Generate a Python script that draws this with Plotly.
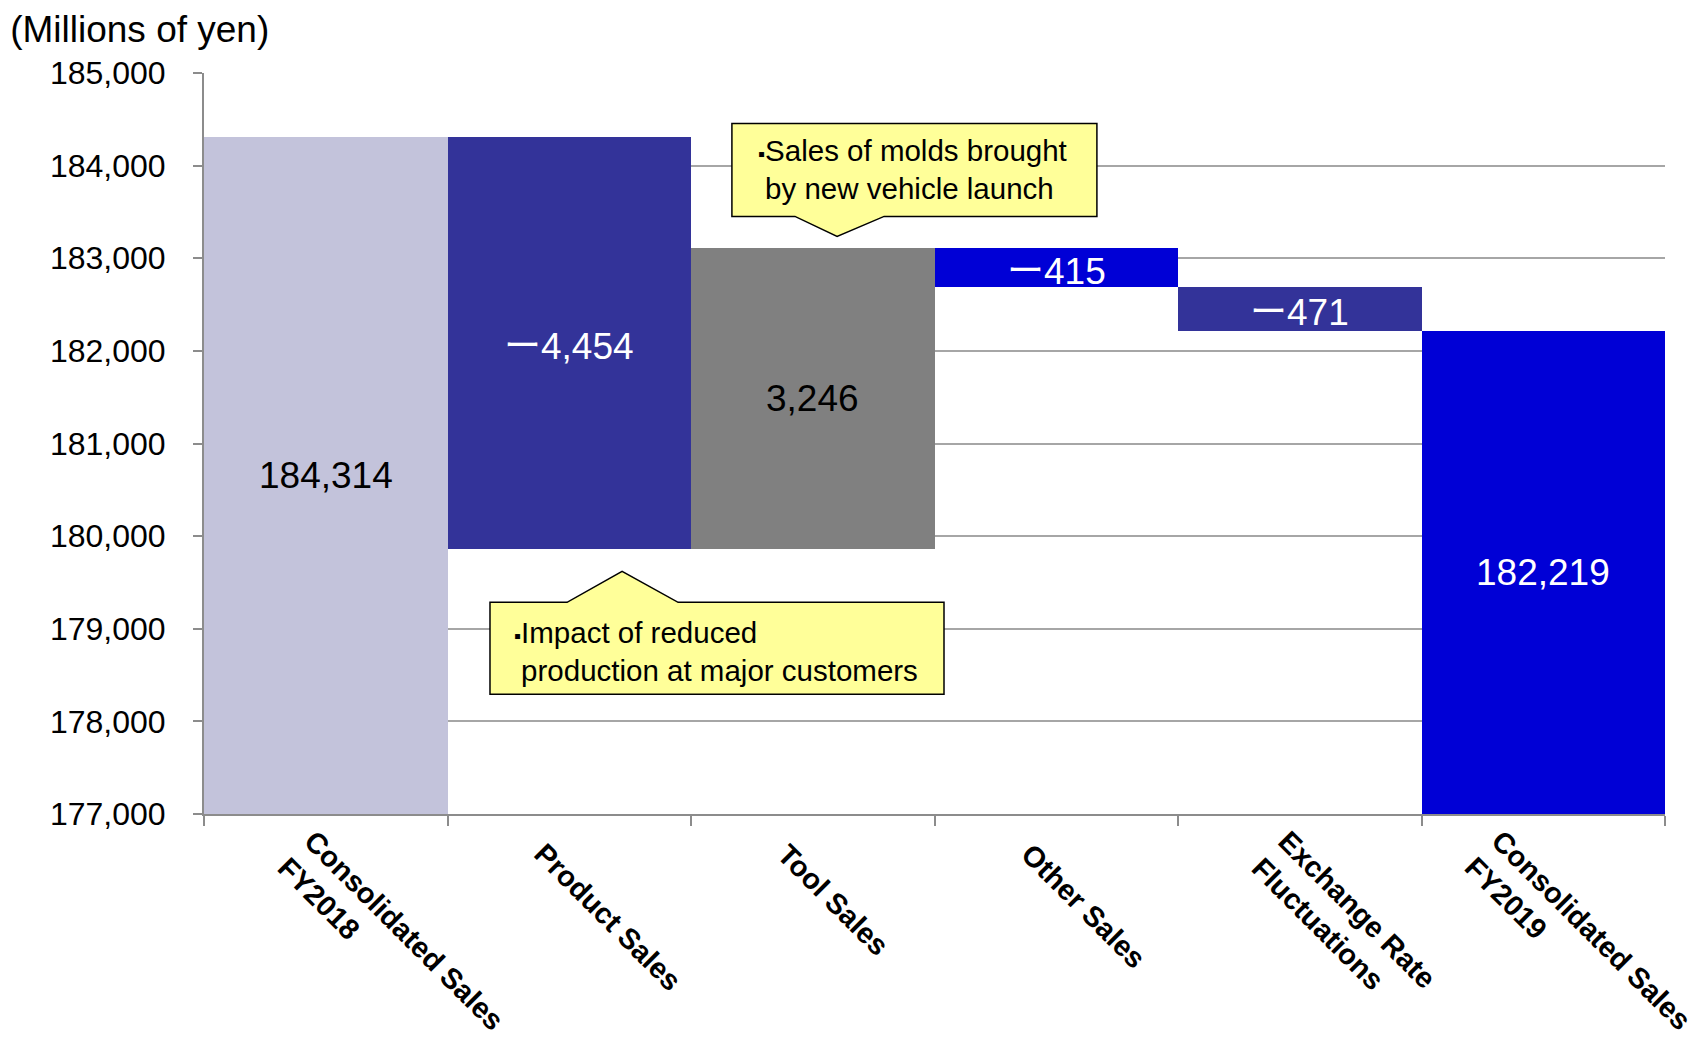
import math
import plotly.graph_objects as go

# Sales bridge FY2018 -> FY2019 (millions of yen)
categories = [
    "Consolidated Sales<br>FY2018",
    "Product Sales",
    "Tool Sales",
    "Other Sales",
    "Exchange Rate<br>Fluctuations",
    "Consolidated Sales<br>FY2019",
]
values = [184314, -4454, 3246, -415, -471, 182219]
kinds = ["total", "delta", "delta", "delta", "delta", "total"]
bar_colors = ["#C3C3DB", "#333399", "#808080", "#0000D6", "#333399", "#0000D6"]
label_colors = ["#000000", "#FFFFFF", "#000000", "#FFFFFF", "#FFFFFF", "#FFFFFF"]

y_min, y_max = 177000, 185000
FONT = "Liberation Sans, Arial, sans-serif"
CJK = "Noto Sans CJK JP"

# floating bars: totals rise from the axis floor, deltas hang off the running level
bases, heights = [], []
level = None
for v, k in zip(values, kinds):
    if k == "total":
        bases.append(y_min)
        heights.append(v - y_min)
        level = v
    else:
        bases.append(min(level, level + v))
        heights.append(abs(v))
        level += v


def fmt(v):
    sign = f"<span style='font-family:{CJK}'>\u30fc</span>" if v < 0 else ""
    return sign + f"{abs(v):,}"


fig = go.Figure(
    go.Bar(
        x=categories,
        y=heights,
        base=bases,
        width=1,
        marker=dict(color=bar_colors, line=dict(width=0)),
        hoverinfo="skip",
    )
)

# value labels in the middle of each visible bar
for c, b, h, v, col in zip(categories, bases, heights, values, label_colors):
    fig.add_annotation(
        x=c, y=b + h / 2, text=fmt(v), showarrow=False,
        font=dict(family=FONT, size=37, color=col),
        xanchor="center", yanchor="middle",
    )

# slanted category labels: multi-line blocks are centred across their lines,
# and the rightmost one is pulled in so it stays inside the figure
CAT_SIZE = 29
line_h = 1.3 * CAT_SIZE
edge_pull = [0, 0, 0, 0, 0, -30]
for c, pull in zip(categories, edge_pull):
    n_lines = c.count("<br>") + 1
    d = (n_lines - 1) * line_h / (2 * math.sqrt(2))
    fig.add_annotation(
        x=c, y=0, xref="x", yref="paper", text=c, showarrow=False,
        textangle=45, xanchor="left", yanchor="top", align="left",
        xshift=-44 - d + pull, yshift=-21 + d,
        font=dict(family=FONT, size=CAT_SIZE, color="#000000", weight="bold"),
    )

# yellow callouts with pointers; the second line is indented by an invisible bullet
BULLET = "<span style='font-size:20px'>\u25aa</span>"
INDENT = "<span style='font-size:20px;color:rgba(0,0,0,0)'>\u25aa</span>"
callouts = [
    dict(
        box=(1.668, 3.167, 183452, 184456), pointer=(1.927, 2.293, 2.1, 183236), side="bottom",
        text=BULLET + "Sales of molds brought<br>" + INDENT + "by new vehicle launch",
        at=(1.765, 183956),
    ),
    dict(
        box=(0.6745, 2.539, 178292, 179285), pointer=(0.991, 1.447, 1.217, 179619), side="top",
        text=BULLET + "Impact of reduced<br>" + INDENT + "production at major customers",
        at=(0.765, 178754),
    ),
]
for cal in callouts:
    x0, x1, yb, yt = cal["box"]
    bl, br, tx, ty = cal["pointer"]
    if cal["side"] == "bottom":
        path = (f"M {x0},{yt} L {x1},{yt} L {x1},{yb} L {br},{yb} "
                f"L {tx},{ty} L {bl},{yb} L {x0},{yb} Z")
    else:
        path = (f"M {x0},{yt} L {bl},{yt} L {tx},{ty} L {br},{yt} "
                f"L {x1},{yt} L {x1},{yb} L {x0},{yb} Z")
    fig.add_shape(type="path", path=path, xref="x", yref="y",
                  fillcolor="#FFFF99", line=dict(color="#000000", width=1.5), layer="above")
    fig.add_annotation(
        x=cal["at"][0], y=cal["at"][1], text=cal["text"], showarrow=False,
        xanchor="left", yanchor="middle", align="left",
        font=dict(family=FONT, size=29.5, color="#000000"),
    )

fig.update_layout(
    width=1699, height=1057,
    margin=dict(l=204, r=34, t=73, b=243, autoexpand=False),
    plot_bgcolor="#FFFFFF", paper_bgcolor="#FFFFFF",
    bargap=0, showlegend=False,
    title=dict(
        text="(Millions of yen)", xref="container", yref="container",
        x=0.006, xanchor="left", y=0.985, yanchor="top",
        font=dict(family=FONT, size=37, color="#000000"),
    ),
    font=dict(family=FONT, color="#000000"),
)
fig.update_yaxes(
    range=[y_min, y_max], dtick=1000, tickformat=",",
    showgrid=True, gridcolor="#A6A6A6", gridwidth=2,
    showline=True, linecolor="#8C8C8C", linewidth=2,
    ticks="outside", ticklen=9, tickwidth=2, tickcolor="#8C8C8C",
    ticklabelstandoff=21, automargin=False,
    tickfont=dict(family=FONT, size=32, color="#000000"),
    zeroline=False,
)
fig.update_xaxes(
    type="category", range=[-0.5, len(categories) - 0.5],
    tickson="boundaries", ticks="outside", ticklen=10,
    tickwidth=2, tickcolor="#8C8C8C",
    showline=True, linecolor="#8C8C8C", linewidth=2,
    showticklabels=False, showgrid=False, automargin=False,
)

fig.write_html("out.html")
